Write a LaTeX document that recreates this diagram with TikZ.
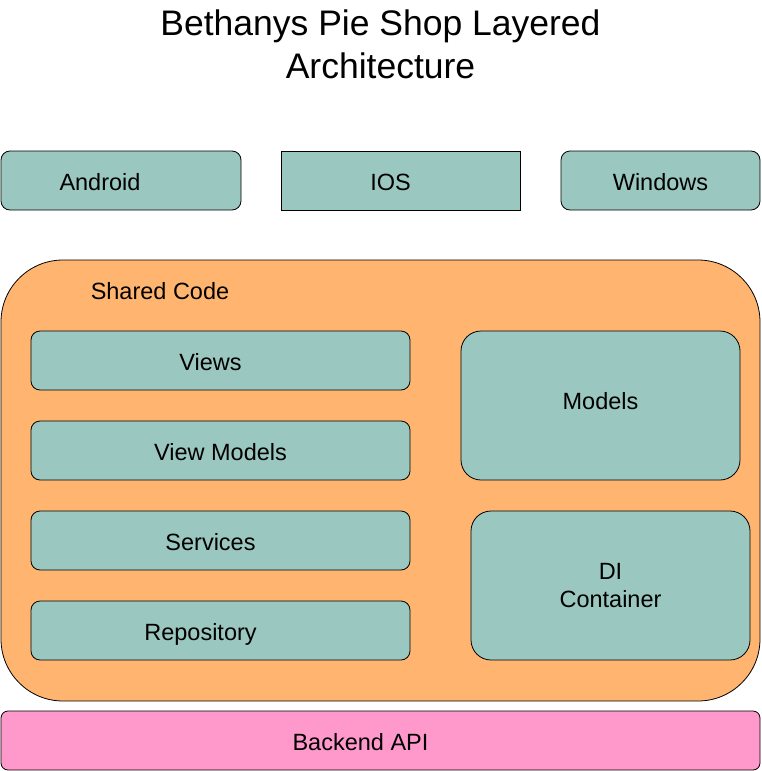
\documentclass[tikz,border=0pt]{standalone}
\usepackage{fontspec}
\setmainfont{Liberation Sans}
\usetikzlibrary{positioning}
\definecolor{tealbox}{HTML}{9AC7BF}
\definecolor{sharedorange}{HTML}{FFB570}
\definecolor{backendpink}{HTML}{FF99CC}
\tikzset{
  box/.style={draw=black, line width=0.8pt, fill=tealbox, rounded corners=9pt, inner sep=0pt},
  boxtext/.style={inner sep=0pt, text height=17pt, text depth=0pt, font=\fontsize{23.5}{28}\selectfont},
  twolinetext/.style={inner sep=0pt, align=center, font=\fontsize{23.5}{28}\selectfont},
  titletext/.style={inner sep=0pt, align=center, font=\fontsize{35.5}{43}\selectfont}
}

\begin{document}
\begin{tikzpicture}[x=1pt,y=-1pt]
\useasboundingbox (0,0) rectangle (761,771);
% title
\node [titletext] (title) at (380.5,44) {Bethanys Pie Shop Layered\\Architecture};
% platforms
\node [box, minimum width=240pt, minimum height=59pt] (android) at (121,180.5) {};
\node [box, sharp corners, minimum width=239pt, minimum height=59pt] (ios) at (400.5,180.5) {};
\node [box, minimum width=199pt, minimum height=59pt] (windows) at (660.5,180.5) {};
\node [boxtext] (android text) at ([xshift=-21pt,yshift=-1pt]android.center) {Android};
\node [boxtext] (ios text) at ([xshift=-10pt,yshift=-1pt]ios.center) {IOS};
\node [boxtext] (windows text) at ([yshift=-1pt]windows.center) {Windows};
% shared code
\node [box, fill=sharedorange, rounded corners=62pt, minimum width=759pt, minimum height=441pt] (shared) at (380.5,480.5) {};
\node [boxtext] (shared text) at (160,291) {Shared Code};
\node [box, minimum width=379pt, minimum height=59pt] (views) at (220.5,360.5) {};
\node [box, minimum width=379pt, minimum height=59pt] (viewmodels) at (220.5,450.5) {};
\node [box, minimum width=379pt, minimum height=59pt] (services) at (220.5,540.5) {};
\node [box, minimum width=379pt, minimum height=59pt] (repository) at (220.5,630.5) {};
\node [boxtext] (views text) at ([xshift=-10pt,yshift=-1pt]views.center) {Views};
\node [boxtext] (viewmodels text) at ([yshift=-1pt]viewmodels.center) {View Models};
\node [boxtext] (services text) at ([xshift=-10pt,yshift=-1pt]services.center) {Services};
\node [boxtext] (repository text) at ([xshift=-20pt,yshift=-1pt]repository.center) {Repository};
\node [box, rounded corners=20pt, minimum width=279pt, minimum height=149pt] (models) at (600.5,405.5) {};
\node [box, rounded corners=20pt, minimum width=279pt, minimum height=149pt] (di) at (610.5,585.5) {};
\node [boxtext] (models text) at ([yshift=4.5pt]models.center) {Models};
\node [twolinetext] (di text) at (di.center) {DI\\Container};
% backend
\node [box, fill=backendpink, rounded corners=7pt, minimum width=759pt, minimum height=59pt] (backend) at (380.5,740.5) {};
\node [boxtext] (backend text) at ([xshift=-20pt,yshift=-1pt]backend.center) {Backend API};
\end{tikzpicture}
\end{document}
